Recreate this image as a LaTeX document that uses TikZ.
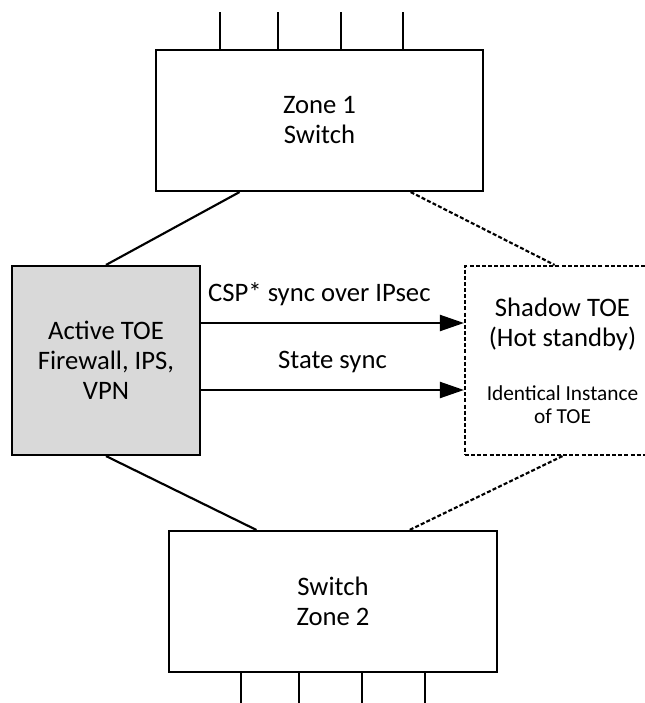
\documentclass[tikz,border=0pt]{standalone}
\usepackage{fontspec}
\setmainfont{Carlito}
\usetikzlibrary{arrows.meta,calc}
\definecolor{toegray}{RGB}{217,217,217}

\begin{document}
\begin{tikzpicture}[
    x=0.75pt, y=-0.75pt,
    box/.style={rectangle, draw, line width=1.6pt, align=center, inner sep=0pt, font=\fontsize{20}{22.5}\selectfont},
    shadowbox/.style={box, dash pattern=on 3pt off 1.6pt},
    link/.style={line width=1.6pt},
    dashlink/.style={line width=1.6pt, dash pattern=on 3pt off 1.6pt},
    arrow/.style={-{Triangle[length=18pt,width=12pt]}, line width=1.6pt},
    label/.style={font=\fontsize{20}{22.5}\selectfont, anchor=base, yshift=16pt}
]
    \useasboundingbox (0,0) rectangle (645,703);

    % Switches und TOEs
    \node[box, minimum width=245.25pt, minimum height=105.75pt] (zone1) at (319.5,120.5) {Zone 1\\Switch};
    \node[box, fill=toegray, minimum width=141pt, minimum height=141.75pt] (active) at (106,360.5) {Active TOE\\Firewall, IPS,\\VPN};
    \node[shadowbox, minimum width=146.25pt, minimum height=141.75pt, font=\fontsize{16}{17}\selectfont] (shadow) at (562.5,360.5)
        {\fontsize{20}{17}\selectfont Shadow TOE\\[5.5pt]\fontsize{20}{17}\selectfont (Hot standby)\\[24pt]\fontsize{16}{17}\selectfont Identical Instance\\of TOE};
    \node[box, minimum width=246pt, minimum height=105.75pt] (zone2) at (333,601.5) {Switch\\Zone 2};

    % Ports
    \foreach \tx in {220,278,341,403}
        \draw[link] (zone1.north -| \tx,0) -- ++(0,-37);
    \foreach \tx in {241,299,362,425}
        \draw[link] (zone2.south -| \tx,0) -- ++(0,40);

    % Verbindungen
    \draw[link] ($(zone1.south west)!0.257!(zone1.south east)$) -- (active.north);
    \draw[dashlink] ($(zone1.south west)!0.777!(zone1.south east)$) -- ($(shadow.north west)!0.46!(shadow.north east)$);
    \draw[link] (active.south) -- ($(zone2.north west)!0.268!(zone2.north east)$);
    \draw[dashlink] (shadow.south) -- ($(zone2.north west)!0.732!(zone2.north east)$);

    % Synchronisation
    \draw[arrow] (active.east |- 0,323) -- node[label, pos=0.45] {CSP* sync over IPsec} (shadow.west |- 0,323);
    \draw[arrow] (active.east |- 0,390) -- node[label] {State sync} (shadow.west |- 0,390);
\end{tikzpicture}
\end{document}
